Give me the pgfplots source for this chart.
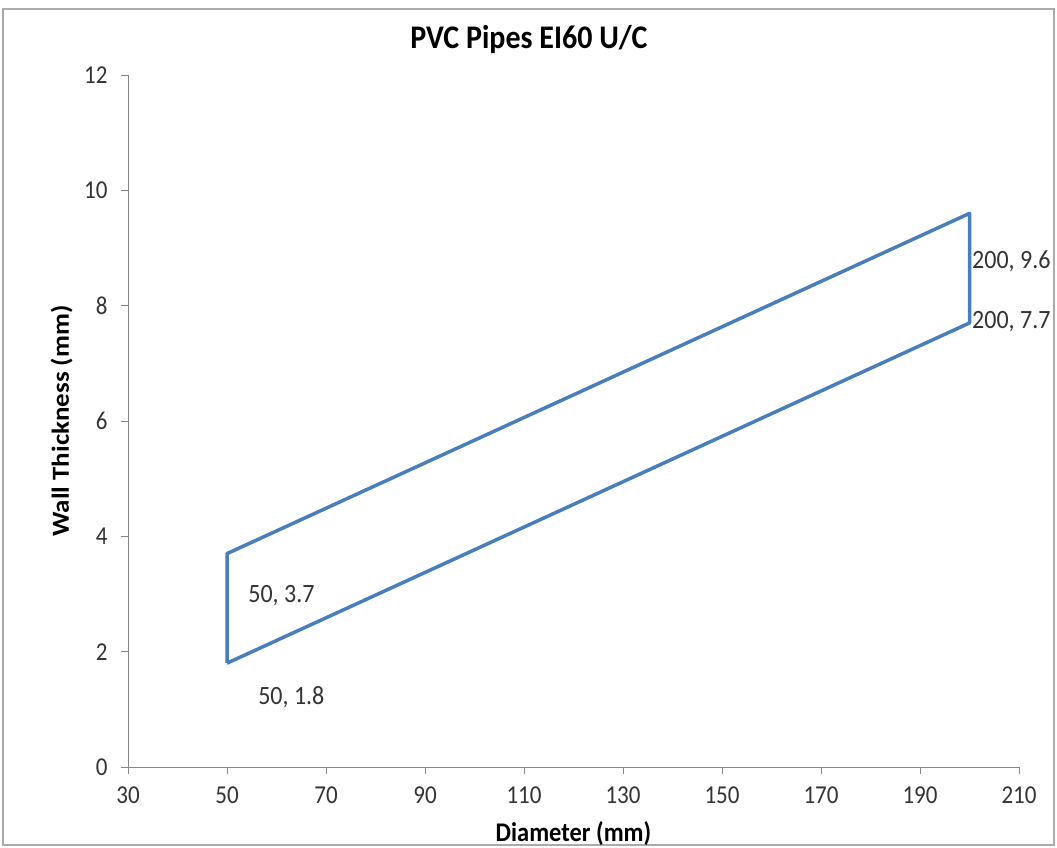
\documentclass[border=0pt]{standalone}
\usepackage{pgfplots}
\pgfplotsset{compat=1.18}
\usepackage{fontspec}
\setmainfont{Carlito}
\definecolor{xlblue}{RGB}{74,126,187}
\definecolor{axgray}{RGB}{134,134,134}
\begin{document}
\begin{tikzpicture}
\path[use as bounding box] (0pt,0pt) rectangle (1057pt,848pt);
\draw[color=axgray!70, line width=1.2pt] (3pt,3pt) rectangle (1054pt,839pt);
\node[font=\fontsize{30}{33}\selectfont\bfseries, yscale=1.1] at (529pt,808pt) {PVC Pipes EI60 U/C};
\begin{axis}[
  at={(128pt,81pt)}, anchor=south west,
  scale only axis, width=891pt, height=692pt,
  xmin=30, xmax=210, ymin=0, ymax=12,
  xtick={30,50,...,210}, ytick={0,2,...,12},
  axis x line*=bottom, axis y line*=left,
  axis line style={color=axgray, line width=0.8pt, -},
  tick style={color=axgray, line width=0.8pt},
  tick align=outside, major tick length=7pt,
  /pgf/number format/assume math mode=true,
  ticklabel style={font=\fontsize{23}{25}\selectfont, color=black!80, yscale=1.12},
  xticklabel style={yshift=-8pt},
  yticklabel style={xshift=-10pt},
  xlabel={\textbf{Diameter (mm)}},
  ylabel={\textbf{Wall Thickness (mm)}},
  label style={font=\fontsize{24.5}{27}\selectfont},
  xlabel style={at={(axis description cs:0.5,0)}, anchor=north, yshift=-51pt, yscale=1.1},
  ylabel style={at={(axis description cs:0,0.5)}, anchor=south, yshift=52pt, xscale=1.1},
  clip=false,
]
\addplot[color=xlblue, line width=3.5pt, line join=round] coordinates {
  (50,1.8) (50,3.7) (200,9.6) (200,7.7) (50,1.8)
};
\node[anchor=west, font=\fontsize{24}{26}\selectfont, color=black!80, yscale=1.1] at (axis cs:53.6,2.98) {50, 3.7};
\node[anchor=west, font=\fontsize{24}{26}\selectfont, color=black!80, yscale=1.1] at (axis cs:55.6,1.21) {50, 1.8};
\node[anchor=west, font=\fontsize{24}{26}\selectfont, color=black!80, inner sep=1pt, yscale=1.1] at (axis cs:200.3,8.77) {200, 9.6};
\node[anchor=west, font=\fontsize{24}{26}\selectfont, color=black!80, inner sep=1pt, yscale=1.1] at (axis cs:200.3,7.72) {200, 7.7};
\end{axis}
\end{tikzpicture}
\end{document}
